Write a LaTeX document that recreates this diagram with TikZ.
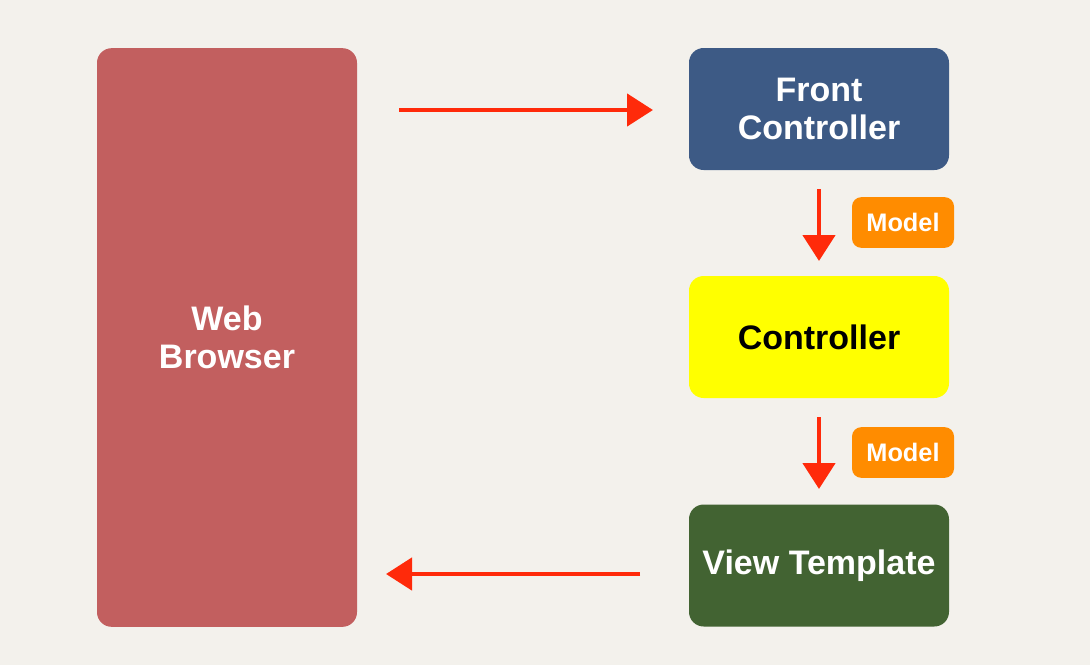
\documentclass[tikz,border=0pt]{standalone}
\usepackage{fontspec}
\setmainfont{Liberation Sans}
\usetikzlibrary{arrows.meta}
\definecolor{paper}{HTML}{F3F1EC}
\definecolor{browserred}{HTML}{C25F5F}
\definecolor{frontblue}{HTML}{3D5A85}
\definecolor{ctrlyellow}{HTML}{FFFF00}
\definecolor{viewgreen}{HTML}{426332}
\definecolor{modelorange}{HTML}{FF8C00}
\definecolor{flowred}{HTML}{FF2A0A}
\begin{document}
\begin{tikzpicture}[x=0.75pt,y=-0.75pt,
  box/.style={rounded corners=11pt, minimum width=195pt, minimum height=91.5pt,
    align=center, font=\bfseries\fontsize{25.5}{28.5}\selectfont, text=white, inner sep=0pt},
  tag/.style={rounded corners=7pt, fill=modelorange, minimum width=76.5pt, minimum height=38pt,
    font=\bfseries\fontsize{19}{21}\selectfont, text=white, inner sep=0pt},
  flow/.style={draw=flowred, line width=3.5pt,
    -{Triangle[length=19.5pt,width=24pt]}}]
  % page
  \fill[paper] (0,0) rectangle (1090,665);
  \useasboundingbox (0,0) rectangle (1090,665);

  % components
  \node[box, fill=browserred, minimum height=434pt] (browser) at (227,337.5) {Web\\Browser};
  \node[box, fill=frontblue] (front) at (819,109) {Front\\Controller};
  \node[box, fill=ctrlyellow, text=black] (ctrl) at (819,337) {Controller};
  \node[box, fill=viewgreen] (view) at (819,565.5) {View Template};

  % model tags
  \node[tag] (model1) at (903,222.5) {Model};
  \node[tag] (model2) at (903,452.5) {Model};

  % arrow end points
  \coordinate (reqA) at (399,110);
  \coordinate (reqB) at (653,110);
  \coordinate (d1A) at (819,189);
  \coordinate (d1B) at (819,261);
  \coordinate (d2A) at (819,417);
  \coordinate (d2B) at (819,489);
  \coordinate (resA) at (640,574);
  \coordinate (resB) at (386,574);

  % request / response flow
  \draw[flow] (reqA) -- (reqB);
  \draw[flow] (d1A) -- (d1B);
  \draw[flow] (d2A) -- (d2B);
  \draw[flow] (resA) -- (resB);
\end{tikzpicture}
\end{document}
